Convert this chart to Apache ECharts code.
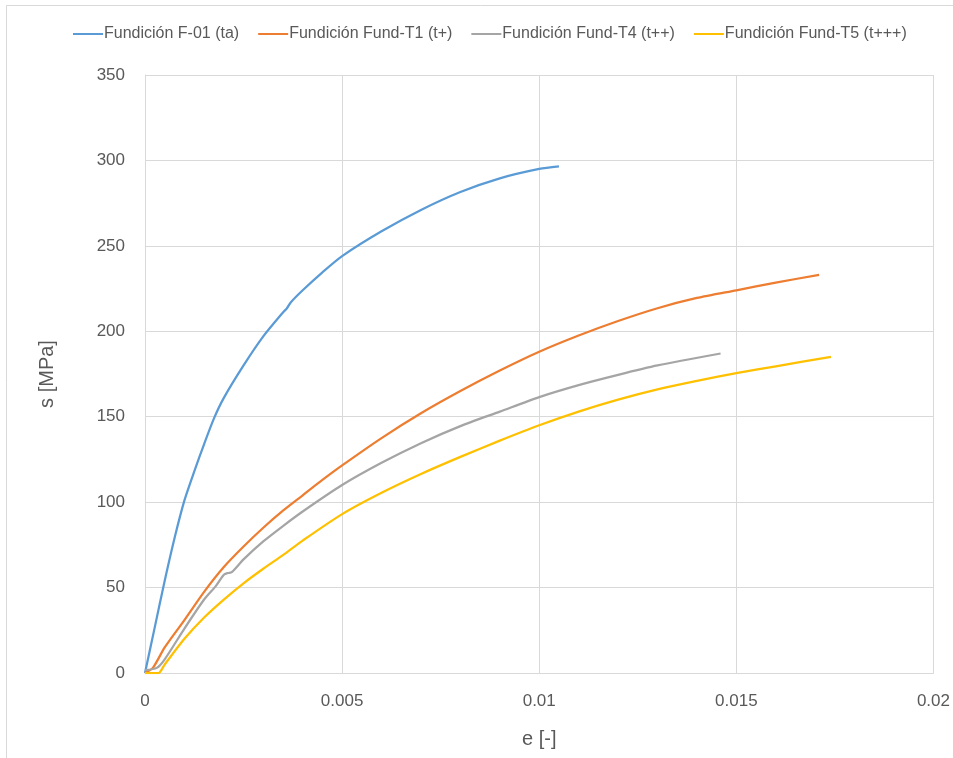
<!DOCTYPE html>
<html>
<head>
<meta charset="utf-8">
<script src="https://cdn.jsdelivr.net/npm/echarts@6/dist/echarts.min.js"></script>
<style>
  html, body { margin: 0; padding: 0; background: #fff; }
  #chart { width: 953px; height: 758px; }
</style>
</head>
<body>
<div id="chart"></div>
<script>
// Stress–strain curves of the cast samples: [strain e (-), stress s (MPa)]
const seriesNames = [
  'Fundición F-01 (ta)',
  'Fundición Fund-T1 (t+)',
  'Fundición Fund-T4 (t++)',
  'Fundición Fund-T5 (t+++)'
];
const seriesColors = ['#5b9bd5', '#ed7d31', '#a5a5a5', '#ffc000'];

const curveF01 = [
  [0, 0], [0.00025, 27], [0.0005, 54], [0.00075, 79], [0.001, 101],
  [0.00125, 118], [0.0015, 134], [0.00175, 149], [0.002, 161], [0.0025, 180],
  [0.003, 197], [0.0035, 211], [0.0036, 213.5], [0.0037, 217], [0.004, 224],
  [0.0045, 234.5], [0.005, 244], [0.006, 258.5], [0.007, 271], [0.008, 281.5],
  [0.009, 289.5], [0.01, 295], [0.0105, 296.5]
];
const curveT1 = [
  [0, 0], [0.0002, 3], [0.0005, 15], [0.001, 31], [0.0015, 47.5],
  [0.002, 62], [0.0025, 74], [0.003, 85], [0.0035, 95], [0.004, 104],
  [0.0045, 113], [0.005, 121.5], [0.006, 137.5], [0.007, 152], [0.008, 165],
  [0.009, 177], [0.01, 188], [0.011, 197.5], [0.012, 206], [0.013, 213.5],
  [0.014, 219.5], [0.015, 224], [0.016, 228.5], [0.0171, 233]
];
const curveT4 = [
  [0, 1.7], [0.0003, 3], [0.0005, 8], [0.001, 26], [0.0015, 43],
  [0.0018, 51], [0.002, 57.5], [0.0021, 58.5], [0.0022, 59], [0.0025, 66.5],
  [0.003, 77], [0.0035, 86], [0.004, 94.5], [0.005, 110], [0.006, 123],
  [0.007, 134.5], [0.008, 144.5], [0.009, 153], [0.01, 161.5], [0.011, 168.5],
  [0.012, 174.5], [0.013, 180], [0.0146, 187]
];
const curveT5 = [
  [0, 0], [0.00034, 0], [0.0005, 5], [0.001, 20], [0.0015, 32.5],
  [0.002, 43], [0.0025, 52.5], [0.003, 61], [0.0035, 69], [0.004, 77.5],
  [0.005, 93], [0.006, 105.5], [0.007, 116.5], [0.008, 126.5], [0.009, 136],
  [0.01, 145], [0.011, 153], [0.012, 160], [0.013, 166], [0.014, 171],
  [0.015, 175.5], [0.016, 179.5], [0.0174, 185]
];
const curves = [curveF01, curveT1, curveT4, curveT5];

const xTicks = [0, 0.005, 0.01, 0.015, 0.02];
const yTicks = [0, 50, 100, 150, 200, 250, 300, 350];

const FONT = '"Liberation Sans", "DejaVu Sans", sans-serif';
const TEXT = '#595959';
const GRIDLINE = '#d9d9d9';

const chart = echarts.init(document.getElementById('chart'), null, { renderer: 'canvas' });

chart.setOption({
  backgroundColor: '#ffffff',
  animation: false,
  color: seriesColors,
  graphic: [{
    type: 'rect',
    shape: { x: 6.5, y: 5.5, width: 1000, height: 1000 },
    style: { fill: 'none', stroke: '#d9d9d9', lineWidth: 1 },
    silent: true,
    z: -1
  }],
  legend: {
    top: 21,
    left: 68,
    icon: 'rect',
    itemWidth: 30,
    itemHeight: 2,
    itemGap: 19,
    textStyle: { fontFamily: FONT, fontSize: 16, color: TEXT, padding: [0, 0, 0, -4] },
    data: seriesNames
  },
  grid: { left: 145, right: 18, top: 75, bottom: 85, containLabel: false },
  xAxis: {
    type: 'value',
    min: xTicks[0],
    max: xTicks[xTicks.length - 1],
    interval: 0.005,
    name: 'e [-]',
    nameLocation: 'middle',
    nameGap: 56,
    nameTextStyle: { fontFamily: FONT, fontSize: 20, color: TEXT },
    axisLine: { show: true, lineStyle: { color: GRIDLINE, width: 1 } },
    axisTick: { show: false },
    splitLine: { show: true, lineStyle: { color: GRIDLINE, width: 1 } },
    axisLabel: {
      fontFamily: FONT, fontSize: 17, color: TEXT, margin: 20,
      formatter: v => String(+v.toFixed(3))
    }
  },
  yAxis: {
    type: 'value',
    min: yTicks[0],
    max: yTicks[yTicks.length - 1],
    interval: 50,
    name: 's [MPa]',
    nameLocation: 'middle',
    nameGap: 88,
    nameRotate: 90,
    nameTextStyle: { fontFamily: FONT, fontSize: 20, color: TEXT },
    axisLine: { show: true, lineStyle: { color: GRIDLINE, width: 1 } },
    axisTick: { show: false },
    splitLine: { show: true, lineStyle: { color: GRIDLINE, width: 1 } },
    axisLabel: { fontFamily: FONT, fontSize: 17, color: TEXT, margin: 20 }
  },
  series: seriesNames.map((name, i) => ({
    name,
    type: 'line',
    data: curves[i],
    showSymbol: false,
    smooth: 0.25,
    lineStyle: { color: seriesColors[i], width: 2.25 },
    itemStyle: { color: seriesColors[i] }
  }))
});
</script>
</body>
</html>
